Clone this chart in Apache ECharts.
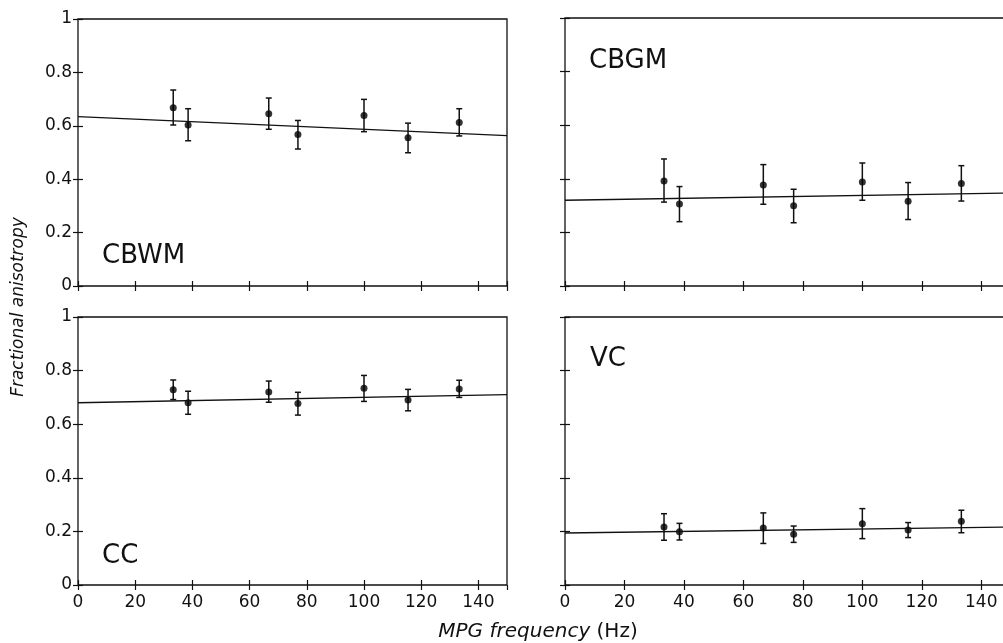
<!DOCTYPE html>
<html>
<head>
<meta charset="utf-8">
<script src="https://cdn.jsdelivr.net/npm/echarts@6/dist/echarts.min.js"></script>
<style>
  html, body { margin: 0; padding: 0; background: #fff; }
  #chart { width: 1003px; height: 643px; }
</style>
</head>
<body>
<div id="chart"></div>
<script>
// MPG frequencies (Hz), same for every panel
const freq = [33.3, 38.5, 66.7, 76.9, 100, 115.4, 133.3];
const fitX = [0, 150];

// CBWM
const cbwmMean = [0.668, 0.603, 0.645, 0.567, 0.639, 0.555, 0.612];
const cbwmHigh = [0.734, 0.664, 0.704, 0.620, 0.699, 0.610, 0.664];
const cbwmLow  = [0.603, 0.544, 0.587, 0.513, 0.578, 0.499, 0.562];
const cbwmFit  = [0.634, 0.563];

// CBGM
const cbgmMean = [0.392, 0.306, 0.377, 0.299, 0.388, 0.316, 0.382];
const cbgmHigh = [0.474, 0.371, 0.453, 0.361, 0.459, 0.386, 0.449];
const cbgmLow  = [0.313, 0.240, 0.305, 0.236, 0.320, 0.248, 0.317];
const cbgmFit  = [0.320, 0.347];

// CC
const ccMean = [0.729, 0.680, 0.720, 0.677, 0.734, 0.690, 0.731];
const ccHigh = [0.765, 0.723, 0.761, 0.719, 0.782, 0.730, 0.764];
const ccLow  = [0.692, 0.637, 0.682, 0.634, 0.685, 0.650, 0.700];
const ccFit  = [0.680, 0.710];

// VC
const vcMean = [0.216, 0.199, 0.213, 0.189, 0.229, 0.205, 0.238];
const vcHigh = [0.266, 0.230, 0.269, 0.220, 0.285, 0.233, 0.279];
const vcLow  = [0.167, 0.168, 0.155, 0.159, 0.173, 0.177, 0.195];
const vcFit  = [0.194, 0.216];

const panelNames = ['CBWM', 'CBGM', 'CC', 'VC'];

const FONT = 'DejaVu Sans';
const INK = '#111';

// panel boxes in pixels, order: CBWM, CBGM, CC, VC (right column runs off the page)
const boxes = [
    {left: 78,  top: 19,  width: 429, height: 267, xLabels: false, yLabels: true},
    {left: 565, top: 18,  width: 446, height: 268, xLabels: false, yLabels: false},
    {left: 78,  top: 317, width: 429, height: 268, xLabels: true,  yLabels: true},
    {left: 565, top: 317, width: 446, height: 268, xLabels: true,  yLabels: false}
];
const labelPos = [[102, 255], [589, 60], [102, 555], [590, 358]];

const panels = [
    {mean: cbwmMean, high: cbwmHigh, low: cbwmLow, fit: cbwmFit},
    {mean: cbgmMean, high: cbgmHigh, low: cbgmLow, fit: cbgmFit},
    {mean: ccMean, high: ccHigh, low: ccLow, fit: ccFit},
    {mean: vcMean, high: vcHigh, low: vcLow, fit: vcFit}
];

function errorBar(params, api) {
    let x = api.value(0);
    let lo = api.coord([x, api.value(1)]);
    let hi = api.coord([x, api.value(2)]);
    let w = 3;
    let style = {stroke: INK, lineWidth: 1.5};
    return {
        type: 'group',
        children: [
            {type: 'line', shape: {x1: lo[0], y1: lo[1], x2: hi[0], y2: hi[1]}, style: style},
            {type: 'line', shape: {x1: hi[0] - w, y1: hi[1], x2: hi[0] + w, y2: hi[1]}, style: style},
            {type: 'line', shape: {x1: lo[0] - w, y1: lo[1], x2: lo[0] + w, y2: lo[1]}, style: style}
        ]
    };
}

let grids = [], xAxes = [], yAxes = [], series = [], graphics = [];

boxes.forEach(function(b, i){
    grids.push({
        left: b.left, top: b.top, width: b.width, height: b.height,
        outerBoundsMode: 'none', containLabel: false,
        show: true, borderColor: INK, borderWidth: 1.3, backgroundColor: 'transparent'
    });
    let tick = {show: true, inside: true, length: 5, lineStyle: {color: INK, width: 1.2}};
    let xBase = {
        type: 'value', gridIndex: i, min: 0, max: 150, interval: 20,
        axisLine: {show: false}, splitLine: {show: false}, axisTick: tick
    };
    xAxes.push(Object.assign({}, xBase, {
        position: 'bottom',
        axisLabel: {show: b.xLabels, showMaxLabel: false, margin: 9,
                    fontFamily: FONT, fontSize: 17, color: INK}
    }));
    xAxes.push(Object.assign({}, xBase, {position: 'top', axisLabel: {show: false}}));
    let yBase = {
        type: 'value', gridIndex: i, min: 0, max: 1, interval: 0.2,
        axisLine: {show: false}, splitLine: {show: false}, axisTick: tick
    };
    yAxes.push(Object.assign({}, yBase, {
        position: 'left',
        axisLabel: {show: b.yLabels, margin: 6, fontFamily: FONT, fontSize: 17, color: INK}
    }));
    yAxes.push(Object.assign({}, yBase, {position: 'right', axisLabel: {show: false}}));

    let p = panels[i];
    series.push({
        type: 'line', xAxisIndex: 2 * i, yAxisIndex: 2 * i,
        data: fitX.map((x, j) => [x, p.fit[j]]),
        symbol: 'none', silent: true, clip: false,
        lineStyle: {color: INK, width: 1.3}
    });
    series.push({
        type: 'custom', xAxisIndex: 2 * i, yAxisIndex: 2 * i,
        renderItem: errorBar,
        data: freq.map((f, j) => [f, p.low[j], p.high[j]]),
        encode: {x: 0, y: [1, 2]}, silent: true
    });
    series.push({
        type: 'scatter', xAxisIndex: 2 * i, yAxisIndex: 2 * i,
        data: freq.map((f, j) => [f, p.mean[j]]),
        symbol: 'circle', symbolSize: 7, silent: true,
        itemStyle: {color: '#000'}
    });

    graphics.push({
        type: 'text', left: labelPos[i][0], top: labelPos[i][1] - 12,
        style: {text: panelNames[i], fontFamily: FONT, fontSize: 26, fill: INK}
    });
});

graphics.push({
    type: 'text', x: 538, y: 632,
    style: {
        text: '{i|MPG frequency} (Hz)',
        rich: {i: {fontStyle: 'italic', fontFamily: FONT, fontSize: 20, fill: INK}},
        fontFamily: FONT, fontSize: 20, fill: INK,
        align: 'center', verticalAlign: 'middle'
    }
});
graphics.push({
    type: 'text', x: 19, y: 307, rotation: Math.PI / 2,
    style: {
        text: 'Fractional anisotropy', fontStyle: 'italic',
        fontFamily: FONT, fontSize: 17, fill: INK,
        align: 'center', verticalAlign: 'middle'
    }
});

let chart = echarts.init(document.getElementById('chart'));
chart.setOption({
    animation: false,
    backgroundColor: '#fff',
    grid: grids,
    xAxis: xAxes,
    yAxis: yAxes,
    series: series,
    graphic: graphics
});
</script>
</body>
</html>
